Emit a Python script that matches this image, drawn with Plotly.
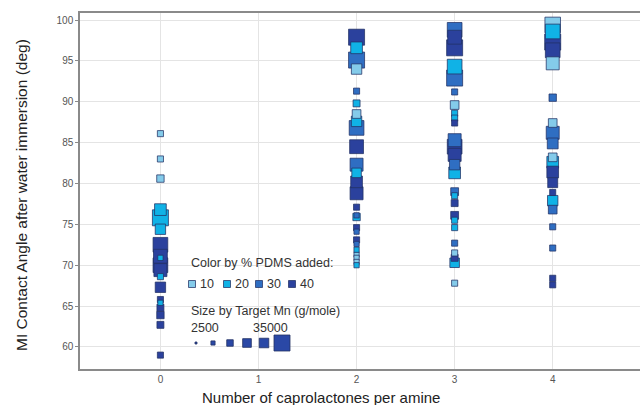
import plotly.graph_objects as go

# ---- data: (caprolactones per amine, contact angle deg, target Mn g/mole) per % PDMS ----
pdms_levels = [10, 20, 30, 40]
pdms_colors = {10: "#84cbea", 20: "#10b2e6", 30: "#2f6ec2", 40: "#2b419d"}

cap_10 = [0, 0, 0, 2, 2, 2, 2, 2, 3, 3, 3, 4, 4, 4, 4]
ang_10 = [86.1, 83.0, 80.6, 94.0, 88.5, 71.3, 70.9, 70.4, 89.6, 71.5, 67.8, 99.4, 94.7, 87.4, 83.2]
mn_10 = [12000, 12000, 15000, 22000, 18000, 10000, 10000, 10000, 18000, 12000, 12000, 34000, 28000, 18000, 18000]

cap_20 = [0, 0, 0, 0, 0, 0, 2, 2, 2, 2, 2, 2, 2, 3, 3, 3, 3, 3, 3, 3, 3, 4, 4, 4]
ang_20 = [76.8, 75.8, 74.4, 68.6, 65.4, 70.9, 96.6, 89.8, 87.6, 81.3, 75.9, 71.9, 70.0,
          94.3, 88.6, 88.0, 81.3, 78.5, 75.5, 74.6, 70.3, 98.6, 82.6, 77.9]
mn_20 = [25000, 35000, 22000, 12000, 10000, 10000, 25000, 14000, 22000, 20000, 15000, 10000, 10000,
         32000, 12000, 12000, 25000, 12000, 12000, 12000, 20000, 32000, 25000, 22000]

cap_30 = [2, 2, 2, 2, 2, 2, 2, 3, 3, 3, 3, 3, 3, 3, 4, 4, 4, 4, 4, 4]
ang_30 = [95.1, 91.3, 86.8, 82.3, 76.1, 74.1, 72.6, 98.8, 92.9, 91.2, 85.3, 82.3, 79.0, 72.7,
          90.5, 86.2, 84.9, 76.8, 74.7, 72.1]
mn_30 = [35000, 12000, 32000, 28000, 10000, 10000, 10000, 32000, 35000, 12000, 28000, 22000, 16000, 12000,
         15000, 28000, 23000, 18000, 12000, 12000]

cap_40 = [0, 0, 0, 0, 0, 0, 0, 0, 0, 0, 2, 2, 2, 2, 2, 2, 2, 3, 3, 3, 3, 3, 3, 3, 3, 4, 4, 4, 4, 4, 4, 4]
ang_40 = [72.5, 71.1, 70.0, 69.4, 67.3, 65.8, 64.8, 63.9, 62.7, 59.0,
          97.9, 84.5, 80.2, 78.8, 77.1, 74.6, 73.1,
          97.9, 96.6, 87.4, 84.5, 83.5, 77.6, 76.1, 70.9,
          97.3, 96.3, 81.4, 80.1, 78.9, 68.4, 67.6]
mn_40 = [32000, 30000, 32000, 28000, 22000, 12000, 14000, 15000, 14000, 12000,
         35000, 30000, 25000, 28000, 12000, 12000, 12000,
         30000, 35000, 12000, 32000, 28000, 14000, 16000, 14000,
         35000, 32000, 25000, 21000, 12000, 12000, 12000]

size_legend_mn = [2500, 7500, 13000, 18000, 20000, 35000]
size_legend_labels = ["2500", "35000"]

series = {10: (cap_10, ang_10, mn_10), 20: (cap_20, ang_20, mn_20),
          30: (cap_30, ang_30, mn_30), 40: (cap_40, ang_40, mn_40)}


def mn_to_size(mn):
    return 2 + (mn - 2500) * 14.0 / 32500


# combine and sort by size so small squares are drawn on top
pts = []
for lvl in pdms_levels:
    xs, ys, ms = series[lvl]
    for x, y, m in zip(xs, ys, ms):
        pts.append((x, y, m, lvl))
pts.sort(key=lambda p: -p[2])

fig = go.Figure()
fig.add_trace(go.Scatter(
    x=[p[0] for p in pts], y=[p[1] for p in pts], mode="markers",
    marker=dict(symbol="square", size=[mn_to_size(p[2]) for p in pts],
                color=[pdms_colors[p[3]] for p in pts],
                line=dict(color="rgba(35,50,100,0.75)", width=1), opacity=1),
    showlegend=False, hoverinfo="x+y"))

# ---- custom legend (overlay axes in paper units) ----
W, H = 640, 405
L, R, T, B = 80, 0, 13, 36
pw, ph = W - L - R, H - T - B


def px(xp):
    return (xp - L) / pw


def py(yp):
    return (H - B - yp) / ph


fig.add_trace(go.Scatter(
    x=[px(192), px(227), px(259), px(292)], y=[py(284)] * 4, mode="markers",
    marker=dict(symbol="square", size=7, color=[pdms_colors[l] for l in pdms_levels],
                line=dict(color="rgba(35,50,100,0.75)", width=1), opacity=1),
    xaxis="x2", yaxis="y2", showlegend=False, hoverinfo="skip"))
fig.add_trace(go.Scatter(
    x=[px(v) for v in [196, 213, 230, 247, 264, 282]], y=[py(343)] * 6, mode="markers",
    marker=dict(symbol="square", size=[mn_to_size(m) for m in size_legend_mn], color="#2a48a6",
                line=dict(color="rgba(35,50,100,0.8)", width=1), opacity=1),
    xaxis="x2", yaxis="y2", showlegend=False, hoverinfo="skip"))

fig.add_shape(type="rect", xref="paper", yref="paper",
              x0=px(182), x1=px(350), y0=py(357), y1=py(250),
              fillcolor="white", line=dict(width=0), layer="between")

txt_font = dict(family="Liberation Sans, Arial, sans-serif", size=12.5, color="#333333")
annos = [
    ("Color by % PDMS added:", 189, 263),
    ("Size by Target Mn (g/mole)", 189, 311),
    (size_legend_labels[0], 189, 328),
    (size_legend_labels[1], 251, 328),
]
for lvl, xx in zip(pdms_levels, [198, 233, 265, 298]):
    annos.append((str(lvl), xx, 284))
for t, xx, yy in annos:
    fig.add_annotation(text=t, x=px(xx), y=py(yy), xref="paper", yref="paper",
                       xanchor="left", yanchor="middle", showarrow=False, font=txt_font)

# axis titles
fig.add_annotation(text="Number of caprolactones per amine", x=px(321), y=py(397),
                   xref="paper", yref="paper", showarrow=False, xanchor="center", yanchor="middle",
                   font=dict(family="Liberation Sans, Arial, sans-serif", size=15, color="#222222"))
fig.add_annotation(text="MI Contact Angle after water immersion (deg)", x=px(21), y=py(195),
                   xref="paper", yref="paper", showarrow=False, textangle=-90,
                   xanchor="center", yanchor="middle",
                   font=dict(family="Liberation Sans, Arial, sans-serif", size=15.5, color="#222222"))

fig.update_layout(
    width=W, height=H, margin=dict(l=L, r=R, t=T, b=B),
    paper_bgcolor="white", plot_bgcolor="white",
    xaxis=dict(range=[-0.82, 4.89], tickvals=[0, 1, 2, 3, 4], showgrid=True,
               gridcolor="#e4e4e4", gridwidth=1, zeroline=False,
               showline=True, linecolor="#8a8a8a", linewidth=1.5, mirror=True,
               ticks="", tickfont=dict(family="Liberation Sans, Arial, sans-serif", size=10, color="#555555")),
    yaxis=dict(range=[57.3, 100.86], tickvals=[60, 65, 70, 75, 80, 85, 90, 95, 100],
               showgrid=True, gridcolor="#e4e4e4", gridwidth=1, zeroline=False,
               showline=True, linecolor="#8a8a8a", linewidth=1.5,
               ticks="outside", ticklen=3, tickcolor="#8a8a8a",
               tickfont=dict(family="Liberation Sans, Arial, sans-serif", size=10, color="#555555")),
    xaxis2=dict(overlaying="x", range=[0, 1], visible=False),
    yaxis2=dict(overlaying="y", range=[0, 1], visible=False),
)

fig.write_html("out.html", config={"displayModeBar": False},
               post_script="document.body.style.margin='0';document.body.style.padding='0';"
                           "document.body.style.overflow='hidden';")
